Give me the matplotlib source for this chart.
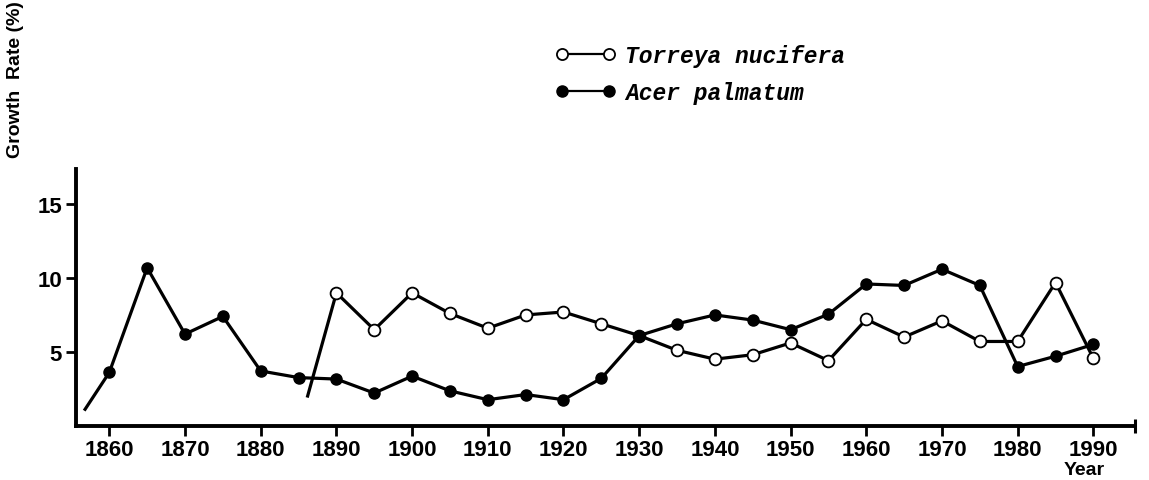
import matplotlib
matplotlib.use("Agg")
import matplotlib.pyplot as plt
from matplotlib.lines import Line2D

# ---- data ----
torreya_years = [1886.2, 1890, 1895, 1900, 1905, 1910, 1915, 1920, 1925, 1930, 1935,
                 1940, 1945, 1950, 1955, 1960, 1965, 1970, 1975, 1980, 1985, 1990]
torreya_vals = [2.0, 9.0, 6.5, 9.0, 7.6, 6.6, 7.5, 7.7, 6.9, 6.1, 5.1,
                4.5, 4.8, 5.6, 4.4, 7.2, 6.0, 7.1, 5.7, 5.7, 9.7, 4.55]
acer_years = [1856.8, 1860, 1865, 1870, 1875, 1880, 1885, 1890, 1895, 1900, 1905, 1910,
              1915, 1920, 1925, 1930, 1935, 1940, 1945, 1950, 1955, 1960, 1965, 1970,
              1975, 1980, 1985, 1990]
acer_vals = [1.1, 3.6, 10.7, 6.2, 7.4, 3.7, 3.25, 3.15, 2.2, 3.35, 2.35, 1.75,
             2.1, 1.75, 3.2, 6.1, 6.9, 7.5, 7.15, 6.5, 7.55, 9.6, 9.5, 10.6,
             9.5, 4.0, 4.7, 5.5]
x_ticks = list(range(1860, 1991, 10))
y_ticks = [5, 10, 15]
series_names = ["Torreya nucifera", "Acer palmatum"]

plt.rcParams['font.family'] = ['Liberation Sans', 'DejaVu Sans']

fig = plt.figure(figsize=(11.49, 4.81), dpi=100)
ax = fig.add_axes([76/1149, 1 - 426.5/481, (1135 - 76)/1149, (426.5 - 170)/481])

lw = 2.3
# Torreya: first segment has no marker at the start point
ax.plot(torreya_years, torreya_vals, color='black', lw=lw, zorder=2)
ax.plot(torreya_years[1:], torreya_vals[1:], ls='none', marker='o', ms=8.5,
        mfc='white', mec='black', mew=1.3, zorder=3)
ax.plot(acer_years, acer_vals, color='black', lw=lw, zorder=4)
ax.plot(acer_years[1:], acer_vals[1:], ls='none', marker='o', ms=8,
        mfc='black', mec='black', zorder=5)

ax.set_xlim(1855.6, 1995.5)
ax.set_ylim(0, 17.4)
for s in ['top', 'right']:
    ax.spines[s].set_visible(False)
for s in ['left', 'bottom']:
    ax.spines[s].set_linewidth(2.8)

ax.set_xticks(x_ticks)
ax.set_xticklabels([str(t) for t in x_ticks])
ax.set_yticks(y_ticks)
ax.set_yticklabels([str(t) for t in y_ticks])
ax.set_xticks([1995.5], minor=True)
ax.tick_params(axis='x', which='minor', direction='inout', length=10, width=2.2)
ax.tick_params(axis='both', which='major', direction='out', length=7, width=2.0,
               labelsize=16, pad=3)
for lab in ax.get_xticklabels() + ax.get_yticklabels():
    lab.set_fontweight('bold')

fig.text(1084/1149, 1 - 471/481, "Year", ha='center', va='center',
         fontsize=14, fontweight='bold')
fig.text(16/1149, 1 - 80/481, "Growth  Rate (%)", ha='center', va='center',
         rotation=90, fontsize=14, fontweight='bold')

handles = [
    Line2D([], [], color='black', lw=1.6, marker='o', ms=8, mfc='white', mec='black', mew=1.3),
    Line2D([], [], color='black', lw=1.6, marker='o', ms=8, mfc='black', mec='black'),
]
leg = fig.legend(handles, series_names, loc='upper left',
                 bbox_to_anchor=(555/1149, 1 - 45/481), frameon=False,
                 numpoints=2, handlelength=2.67, handletextpad=0.4,
                 labelspacing=0.6, borderaxespad=0, borderpad=0,
                 prop={'family': 'Liberation Mono', 'style': 'italic',
                       'weight': 'bold', 'size': 16.5})

fig.savefig("out.png", dpi=100)
